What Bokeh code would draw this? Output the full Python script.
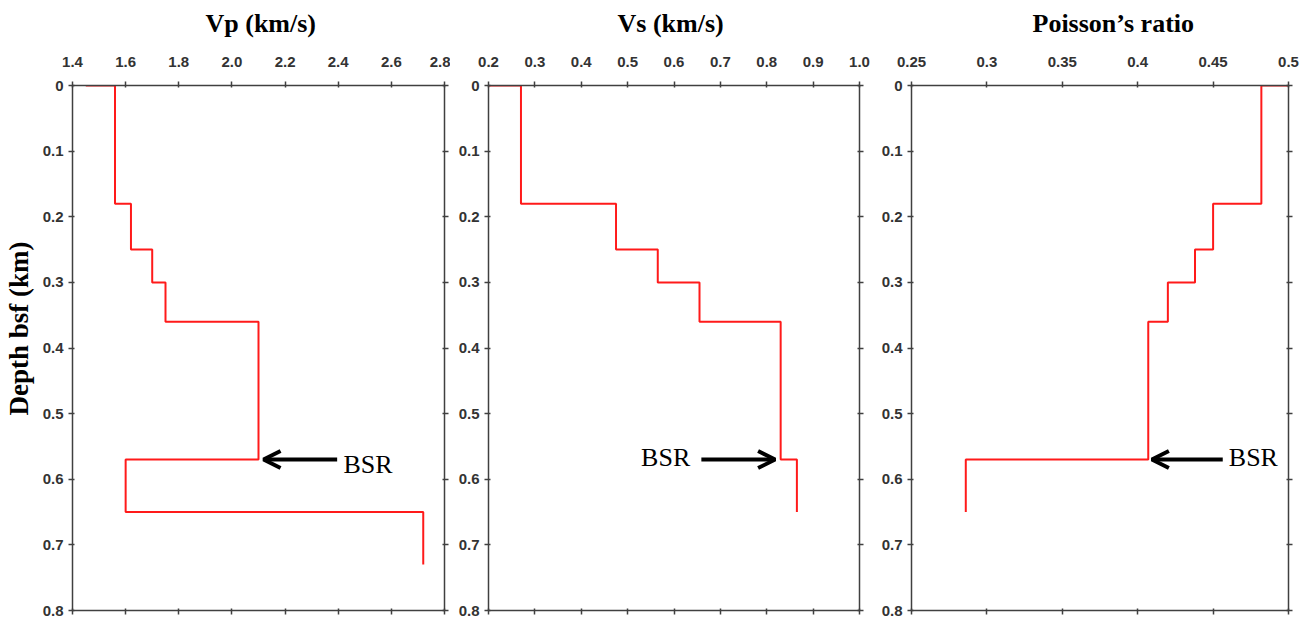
from bokeh.plotting import figure
from bokeh.layouts import row
from bokeh.models import Range1d, LinearAxis, FixedTicker, Arrow, OpenHead, Label, Title
from bokeh.embed import file_html
from bokeh.resources import INLINE

# ---------------- data ----------------
vp_surface = 1.45
vp_layers = [1.56, 1.62, 1.70, 1.75, 2.10, 1.60, 2.72]
vp_bounds = [0.0, 0.18, 0.25, 0.30, 0.36, 0.57, 0.65, 0.73]

vs_surface = 0.20
vs_layers = [0.27, 0.475, 0.565, 0.655, 0.83, 0.865]
vs_bounds = [0.0, 0.18, 0.25, 0.30, 0.36, 0.57, 0.65]

pr_surface = 0.50
pr_layers = [0.482, 0.45, 0.438, 0.42, 0.407, 0.286]
pr_bounds = [0.0, 0.18, 0.25, 0.30, 0.36, 0.57, 0.65]

vp_ticks = [1.4, 1.6, 1.8, 2.0, 2.2, 2.4, 2.6, 2.8]
vp_tick_labels = ["1.4", "1.6", "1.8", "2.0", "2.2", "2.4", "2.6", "2.8"]
vs_ticks = [0.2, 0.3, 0.4, 0.5, 0.6, 0.7, 0.8, 0.9, 1.0]
vs_tick_labels = ["0.2", "0.3", "0.4", "0.5", "0.6", "0.7", "0.8", "0.9", "1.0"]
pr_ticks = [0.25, 0.3, 0.35, 0.4, 0.45, 0.5]
pr_tick_labels = ["0.25", "0.3", "0.35", "0.4", "0.45", "0.5"]
depth_ticks = [0, 0.1, 0.2, 0.3, 0.4, 0.5, 0.6, 0.7, 0.8]
depth_tick_labels = ["0", "0.1", "0.2", "0.3", "0.4", "0.5", "0.6", "0.7", "0.8"]

titles = ["Vp (km/s)", "Vs (km/s)", "Poisson\u2019s ratio"]
y_title = "Depth bsf (km)"

# BSR annotation: [arrow start x, arrow tip x, text x, text depth]
bsr_depth = 0.57
vp_bsr = [2.396, 2.119, 2.42, 0.577]
vs_bsr = [0.659, 0.818, 0.635, 0.567]
pr_bsr = [0.4564, 0.4094, 0.4604, 0.567]

AX = "#404040"
TICK_FONT = "'Liberation Sans Narrow', 'Liberation Sans', Arial, sans-serif"
SERIF = "'Liberation Serif', 'Times New Roman', serif"

EXTRA_TOP = 20   # room hidden above the page top
EXTRA_LEFT = 20  # room hidden left of the page edge


def steps(surface, layers, bounds):
    xs, ys = [surface], [bounds[0]]
    for i, v in enumerate(layers):
        xs += [v, v]
        ys += [bounds[i], bounds[i + 1]]
    return xs, ys


def style_axis(ax, show_labels, standoff=5):
    ax.axis_line_color = AX
    ax.axis_line_width = 1.5
    ax.major_tick_line_color = AX
    ax.major_tick_line_width = 1.5
    ax.major_tick_in = 2
    ax.major_tick_out = 4
    ax.minor_tick_line_color = None
    if show_labels:
        ax.major_label_text_font = TICK_FONT
        ax.major_label_text_font_style = "bold"
        ax.major_label_text_font_size = "15px"
        ax.major_label_text_color = "#333333"
        ax.major_label_standoff = standoff
    else:
        ax.major_label_text_font_size = "1px"
        ax.major_label_text_color = None
        ax.major_label_standoff = 0


def panel(title, xr, xticks, xlabels, data, bsr, width, bl, br, bsr_align, toff):
    p = figure(width=width, height=619 + EXTRA_TOP, output_backend="svg", toolbar_location=None,
               x_range=Range1d(*xr), y_range=Range1d(0.8, 0.0),
               x_axis_location="above", min_border_left=bl, min_border_right=br,
               min_border_top=85 + EXTRA_TOP, min_border_bottom=9)
    p.xgrid.visible = False
    p.ygrid.visible = False
    p.outline_line_color = None
    p.background_fill_color = "white"
    p.border_fill_color = "white"

    p.title.text = title
    p.title.align = "left"
    p.title.offset = toff
    p.title.text_font = SERIF
    p.title.text_font_size = "26px"
    p.title.text_font_style = "bold"
    p.title.text_color = "black"
    p.title.standoff = 32

    xt = p.xaxis[0]
    xt.ticker = FixedTicker(ticks=xticks)
    xt.major_label_overrides = {t: l for t, l in zip(xticks, xlabels)}
    style_axis(xt, True, standoff=15)

    yl = p.yaxis[0]
    yl.ticker = FixedTicker(ticks=depth_ticks)
    yl.major_label_overrides = {t: l for t, l in zip(depth_ticks, depth_tick_labels)}
    style_axis(yl, True, standoff=5)

    xb = LinearAxis(ticker=FixedTicker(ticks=xticks))
    style_axis(xb, False)
    p.add_layout(xb, "below")
    yr = LinearAxis(ticker=FixedTicker(ticks=depth_ticks))
    style_axis(yr, False)
    p.add_layout(yr, "right")

    xs, ys = steps(*data)
    p.line(xs, ys, line_color="#ff1a1a", line_width=2)

    p.add_layout(Arrow(end=OpenHead(size=17, line_width=4, line_color="black"),
                       x_start=bsr[0], y_start=bsr_depth, x_end=bsr[1], y_end=bsr_depth,
                       line_width=4, line_color="black"))
    p.add_layout(Label(x=bsr[2], y=bsr[3], text="BSR", text_align=bsr_align,
                       text_baseline="middle", text_font=SERIF,
                       text_font_size="26px", text_color="black"))
    return p


p1 = panel(titles[0], (1.4, 2.8), vp_ticks, vp_tick_labels,
           (vp_surface, vp_layers, vp_bounds), vp_bsr, 450 + EXTRA_LEFT, 72 + EXTRA_LEFT, 6, "left", 133)
p2 = panel(titles[1], (0.2, 1.0), vs_ticks, vs_tick_labels,
           (vs_surface, vs_layers, vs_bounds), vs_bsr, 422, 38, 13, "right", 129)
p3 = panel(titles[2], (0.25, 0.5), pr_ticks, pr_tick_labels,
           (pr_surface, pr_layers, pr_bounds), pr_bsr, 436, 39, 20, "left", 121)

ytitle = Title(text=y_title, align="left", offset=195, standoff=12,
               text_font=SERIF, text_font_size="27px", text_font_style="bold",
               text_color="black")
p1.add_layout(ytitle, "left")

layout = row(p1, p2, p3, spacing=0, margin=(-EXTRA_TOP, 0, 0, -EXTRA_LEFT))
open("out.html", "w").write(file_html(layout, INLINE))
